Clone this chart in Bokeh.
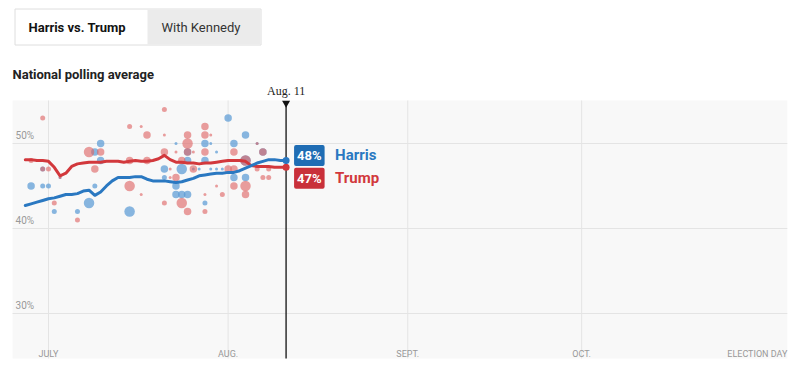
from bokeh.plotting import figure
from bokeh.models import Range1d, Label
from bokeh.layouts import column
from bokeh.embed import file_html
from bokeh.resources import INLINE
from bokeh.core.properties import value

# ---------------- data ----------------
# days counted from July 1 (0 = July 1, 31 = Aug 1, 62 = Sept 1, 92 = Oct 1, 127 = Nov 5)
month_days = [0, 31, 62, 92]
month_labels = ["JULY", "AUG.", "SEPT.", "OCT."]
election_day = 127
election_label = "ELECTION DAY"
pct_ticks = [30, 40, 50]
pct_labels = ["30%", "40%", "50%"]
today = 41
today_label = "Aug. 11"

avg_days = list(range(-4, 42))
harris_avg = [42.7, 42.9, 43.1, 43.3, 43.5, 43.6, 43.8, 44.0, 44.0, 44.1,
              44.4, 44.5, 43.9, 44.3, 45.0, 45.6, 46.0, 46.0, 46.0, 46.1,
              46.1, 45.8, 45.6, 45.6, 45.6, 45.5, 45.4, 45.5, 45.7, 45.9,
              46.2, 46.3, 46.4, 46.5, 46.5, 46.6, 46.6, 46.8, 47.1, 47.4,
              47.7, 47.9, 48.1, 48.1, 48.0, 48.0]
trump_avg = [48.1, 48.1, 48.0, 48.0, 47.9, 47.2, 46.2, 46.5, 47.3, 47.6,
             47.7, 47.8, 47.8, 47.8, 47.9, 47.9, 47.9, 47.8, 47.9, 48.0,
             47.9, 47.9, 48.0, 48.2, 48.6, 48.1, 47.8, 47.8, 47.7, 47.7,
             47.6, 47.7, 47.7, 47.8, 47.9, 48.0, 48.0, 48.0, 47.9, 47.4,
             47.3, 47.3, 47.3, 47.2, 47.2, 47.2]
harris_label = "Harris"
trump_label = "Trump"
harris_end = "48%"
trump_end = "47%"

# individual polls: day, value, weight (1 = smallest .. 4 = largest)
harris_poll_day = [-3, -1, 0, 1, 5, 7, 8, 8, 9, 9, 14, 20, 22, 23, 22, 22, 23, 24, 24, 25,
                   26, 27, 27, 27, 28, 28, 29, 29, 30, 31, 32, 32, 34, 34, 36, 37, 34, -1,
                   2, 24, 20]
harris_poll_val = [45, 45, 45, 42, 42, 43, 45, 49, 50, 48, 42, 47, 50, 47, 45, 44, 44, 44, 48, 47,
                   47, 50, 48, 43, 50, 47, 49, 47, 47, 53, 50, 46, 51, 46, 50, 49, 48, 47,
                   46, 49, 46]
harris_poll_w = [3, 2, 2, 2, 2, 4, 2, 3, 3, 3, 4, 3, 1, 4, 3, 3, 3, 3, 3, 1,
                 1, 3, 3, 2, 1, 1, 1, 1, 1, 3, 3, 3, 3, 3, 1, 3, 4, 2,
                 1, 3, 2]

trump_poll_day = [-1, -3, -1, 0, 1, 5, 7, 8, 9, 14, 14, 14, 16, 17, 17, 16, 20, 20, 20, 20,
                  21, 21, 22, 22, 23, 23, 24, 24, 24, 25, 25, 27, 27, 27, 27, 27, 28, 29, 30, 32,
                  32, 32, 34, 34, 31, 36, 38, 37, 38, 36, 37, 34, 24, 2]
trump_poll_val = [53, 48, 47, 47, 43, 41, 49, 47, 49, 52, 48, 45, 52, 51, 48, 44, 54, 49, 51, 43,
                  47, 46, 49, 46, 48, 43, 51, 50, 42, 49, 47, 52, 51, 49, 44, 42, 51, 45, 44, 49,
                  47, 45, 45, 44, 47, 47, 47, 46, 46, 50, 49, 48, 49, 46]
trump_poll_w = [2, 2, 2, 2, 2, 2, 4, 3, 3, 2, 3, 4, 1, 3, 3, 1, 2, 3, 1, 2,
                1, 1, 1, 3, 3, 4, 3, 4, 3, 1, 3, 3, 3, 3, 1, 2, 1, 1, 2, 3,
                3, 3, 4, 3, 3, 2, 2, 2, 2, 1, 3, 4, 3, 1]

tab_labels = ["Harris vs. Trump", "With Kennedy"]
chart_title = "National polling average"

# ---------------- styles ----------------
BLUE = "#2a78c1"
RED = "#d2383c"
BLUE_BOX = "#1f6db4"
RED_BOX = "#c9303a"
DOT_BLUE = "#5b9bd5"
DOT_RED = "#de6464"
FONT = "Roboto"
W = 800
HEAD_H = 84
CHART_H = 285
size_map = {1: 3, 2: 5, 3: 7.5, 4: 10.5}

# ---------------- header ----------------
head = figure(width=W, height=HEAD_H, x_range=Range1d(0, W), y_range=Range1d(HEAD_H, 0),
              toolbar_location=None, output_backend="svg", min_border=0,
              outline_line_color=None)
head.axis.visible = False
head.grid.visible = False
head.quad(left=[14.5], right=[260.5], top=[8.5], bottom=[44.5],
          fill_color="white", line_color="#dedede", line_width=1)
head.quad(left=[147], right=[260], top=[9], bottom=[44],
          fill_color="#ebebeb", line_color=None)
head.text(x=[28], y=[26.5], text=[tab_labels[0]], text_font=value(FONT), text_font_size="13px",
          text_font_style="bold", text_color="#121212", text_baseline="middle")
head.text(x=[161], y=[26.5], text=[tab_labels[1]], text_font=value(FONT), text_font_size="13px",
          text_color="#333333", text_baseline="middle")
head.text(x=[12], y=[74], text=[chart_title], text_font=value(FONT), text_font_size="13px",
          text_font_style="bold", text_color="#222222", text_baseline="middle")

# ---------------- chart ----------------
p = figure(width=W, height=CHART_H, x_range=Range1d(-8.28, 129.77), y_range=Range1d(23.41, 56.94),
           toolbar_location=None, output_backend="svg", min_border=0,
           outline_line_color=None)
p.axis.visible = False
p.grid.visible = False

x_lo, x_hi = -6.2, 127.5
y_lo, y_hi = 24.71, 55.06
p.quad(left=[x_lo], right=[x_hi], bottom=[y_lo], top=[y_hi], fill_color="#f8f8f8", line_color=None)
p.segment(x0=[x_lo] * len(pct_ticks), x1=[x_hi] * len(pct_ticks), y0=pct_ticks, y1=pct_ticks,
          line_color="#e4e4e4", line_width=1)
p.segment(x0=month_days, x1=month_days, y0=[y_lo] * len(month_days), y1=[y_hi] * len(month_days),
          line_color="#e4e4e4", line_width=1)

p.text(x=[x_lo] * len(pct_ticks), y=pct_ticks, text=pct_labels, x_offset=3, y_offset=-2,
       text_font=value(FONT), text_font_size="10px", text_color="#999999",
       text_baseline="bottom", text_align="left")
p.text(x=month_days, y=[25.29] * len(month_days), text=month_labels,
       text_font=value(FONT), text_font_size="9px", text_color="#999999",
       text_baseline="middle", text_align="center")
p.text(x=[election_day], y=[25.29], text=[election_label], x_offset=3,
       text_font=value(FONT), text_font_size="9px", text_color="#999999",
       text_baseline="middle", text_align="right")

# polls
p.scatter(x=harris_poll_day, y=harris_poll_val, size=[size_map[w] for w in harris_poll_w],
          fill_color=DOT_BLUE, fill_alpha=0.72, line_color=None)
p.scatter(x=trump_poll_day, y=trump_poll_val, size=[size_map[w] for w in trump_poll_w],
          fill_color=DOT_RED, fill_alpha=0.62, line_color=None)

# today marker
p.segment(x0=[today], x1=[today], y0=[54.94], y1=[y_lo], line_color="#111111", line_width=1.3)
p.scatter(x=[today], y=[54.75], marker="inverted_triangle", size=8, fill_color="#111111",
          line_color=None)
p.text(x=[today], y=[56.12], text=[today_label], text_font=value("Liberation Serif"),
       text_font_size="12px", text_color="#222222", text_align="center", text_baseline="middle")

# averages
p.line(avg_days, trump_avg, line_color=RED, line_width=3, line_join="round", line_cap="round")
p.line(avg_days, harris_avg, line_color=BLUE, line_width=3, line_join="round", line_cap="round")
p.scatter(x=[avg_days[-1]], y=[trump_avg[-1]], size=7, fill_color=RED, line_color=None)
p.scatter(x=[avg_days[-1]], y=[harris_avg[-1]], size=7, fill_color=BLUE, line_color=None)

# end labels
for txt, yv, box, col, name in [(harris_end, harris_avg[-1] + 0.6, BLUE_BOX, BLUE, harris_label),
                                (trump_end, trump_avg[-1] - 1.3, RED_BOX, RED, trump_label)]:
    p.add_layout(Label(x=avg_days[-1], y=yv, text=txt, x_offset=8, text_align="left",
                       text_baseline="middle", text_font=FONT, text_font_size="13px",
                       text_font_style="bold", text_color="white",
                       background_fill_color=box, padding=3, border_radius=2))
    p.add_layout(Label(x=avg_days[-1], y=yv, text=name, x_offset=49, text_align="left",
                       text_baseline="middle", text_font=FONT, text_font_size="15px",
                       text_font_style="bold", text_color=col))

layout = column(head, p, spacing=0)
open("out.html", "w").write(file_html(layout, INLINE))
